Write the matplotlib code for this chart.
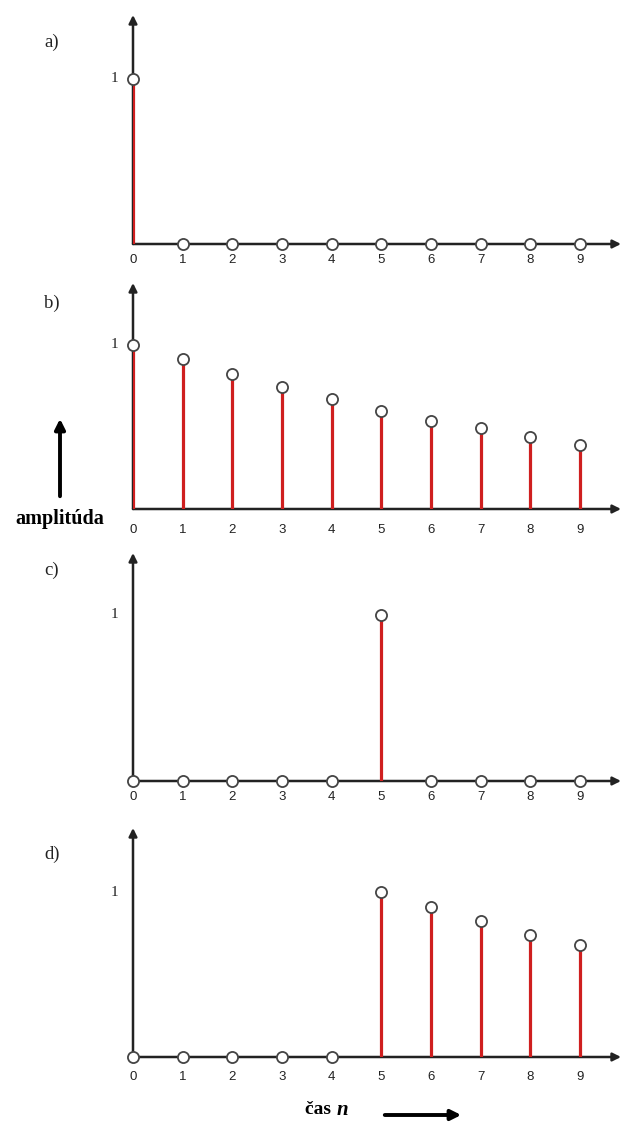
import numpy as np
import matplotlib
matplotlib.use('Agg')
import matplotlib.pyplot as plt

W, H = 622, 1122

n = np.arange(10)
tick_labels = [str(k) for k in n]

# sequences for the four panels
seq_a = [1, 0, 0, 0, 0, 0, 0, 0, 0, 0]
seq_b = [1.0, 0.915, 0.823, 0.744, 0.67, 0.598, 0.537, 0.494, 0.44, 0.39]
seq_c = [0, 0, 0, 0, 0, 1, 0, 0, 0, 0]
seq_d = [0, 0, 0, 0, 0, 1.0, 0.909, 0.824, 0.739, 0.68]
panel_names = ['a)', 'b)', 'c)', 'd)']

# pixel layout: baseline, level of "1", top of y-arrow, label y
baseline = [244, 509, 781, 1057]
one_px = [79, 345, 615, 892]
top_px = [15, 283, 553, 828]
name_y = [42, 303, 570, 854]
tick_off = [16, 21, 16, 20]

x0_px, step_px, right_px = 133, 49.67, 621
axis_col = '#222222'
stem_col = '#cf1f1f'

fig = plt.figure(figsize=(W / 100, H / 100), dpi=100)

def fx(px):
    return px / W

def fy(py):
    return 1 - py / H

for i, seq in enumerate([seq_a, seq_b, seq_c, seq_d]):
    b, o, t = baseline[i], one_px[i], top_px[i]
    ax = fig.add_axes([fx(x0_px), fy(b), fx(right_px) - fx(x0_px), (b - t) / H])
    xmax = (right_px - x0_px) / step_px
    ymax = (b - t) / (b - o)
    ax.set_xlim(0, xmax)
    ax.set_ylim(0, ymax)
    ax.axis('off')

    # axes with arrow heads
    ax.annotate('', xy=(xmax, 0), xytext=(0, 0), annotation_clip=False,
                arrowprops=dict(arrowstyle='-|>', color=axis_col, lw=1.8,
                                mutation_scale=12, shrinkA=0, shrinkB=0))
    ax.annotate('', xy=(0, ymax), xytext=(0, 0), annotation_clip=False,
                arrowprops=dict(arrowstyle='-|>', color=axis_col, lw=1.8,
                                mutation_scale=12, shrinkA=0, shrinkB=0))

    v = np.array(seq, dtype=float)
    nz = v > 0
    ax.vlines(n[nz], 0, v[nz], color=stem_col, lw=2.3, zorder=3)
    ax.plot(n, v, 'o', ms=8, mfc='white', mec='#444444', mew=1.3,
            clip_on=False, zorder=5)

    ax.text(-0.3, 1, '1', ha='right', va='center', fontsize=11,
            family='Liberation Serif', color='#222222')

    for k, lab in zip(n, tick_labels):
        fig.text(fx(x0_px + k * step_px), fy(b + tick_off[i]), lab,
                 ha='center', va='center', fontsize=9.5,
                 family='Liberation Sans', color='#222222')

    fig.text(fx(52), fy(name_y[i]), panel_names[i], ha='center', va='center',
             fontsize=13.5, family='Liberation Serif', color='#222222')

# amplitude label with arrow
fig.text(fx(60), fy(519), 'amplitúda', ha='center', va='center',
         fontsize=14.5, fontweight='bold', family='Liberation Serif')
fig.add_artist(matplotlib.patches.FancyArrowPatch(
    (fx(60), fy(499)), (fx(60), fy(416)), transform=fig.transFigure,
    arrowstyle='-|>', mutation_scale=15, lw=2.8, color='black'))

# time label with arrow
fig.text(fx(336), fy(1110), 'čas ', ha='right', va='center',
         fontsize=14, fontweight='bold', family='Liberation Serif')
fig.text(fx(337), fy(1110), 'n', ha='left', va='center', fontsize=15,
         fontweight='bold', fontstyle='italic', family='Liberation Serif')
fig.add_artist(matplotlib.patches.FancyArrowPatch(
    (fx(382), fy(1115)), (fx(464), fy(1115)), transform=fig.transFigure,
    arrowstyle='-|>', mutation_scale=15, lw=2.8, color='black'))

fig.savefig('out.png', dpi=100, facecolor='white')
